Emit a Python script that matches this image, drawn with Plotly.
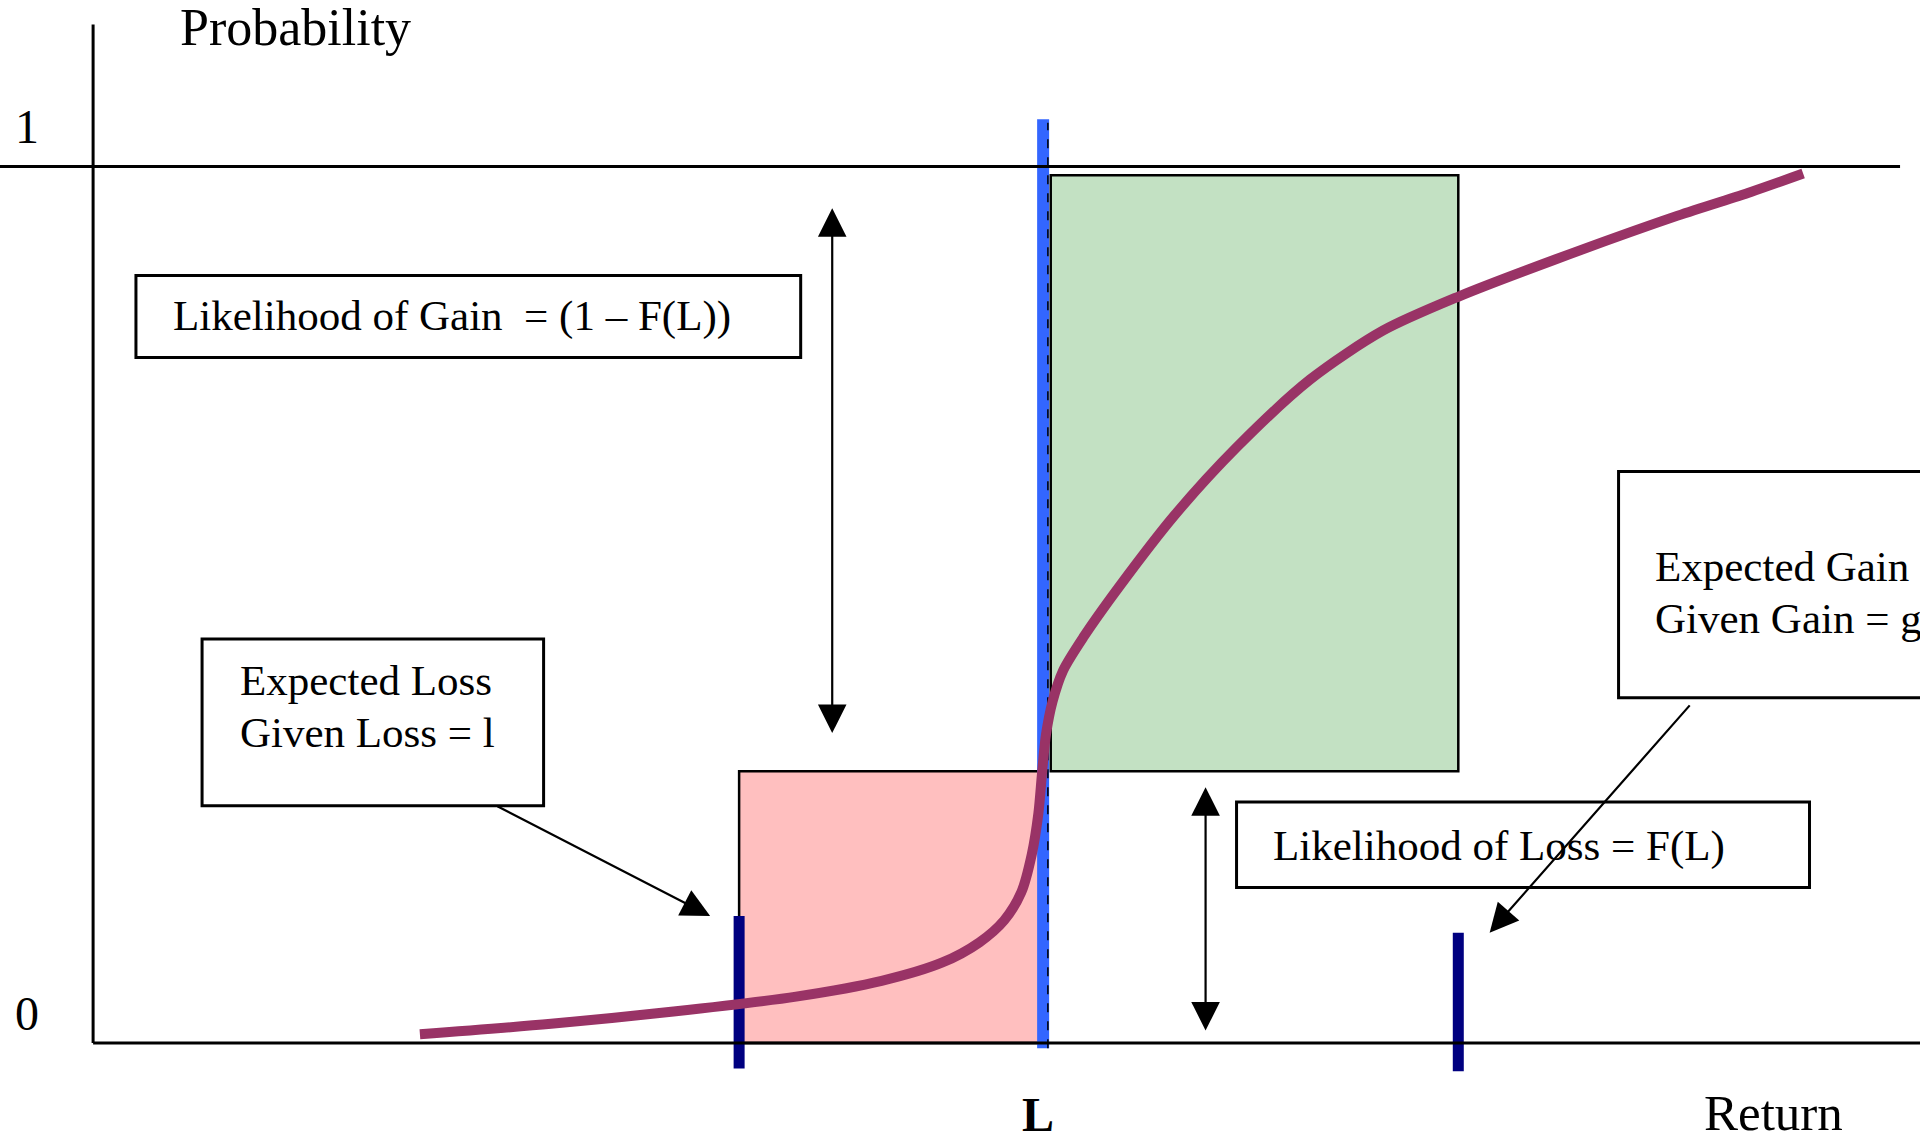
import plotly.graph_objects as go

# Return axis: the probability axis sits at 0, the threshold L at 1
L_RETURN = 1.0
F_L = 0.31            # likelihood of loss, F(L)
EXP_LOSS = 0.68       # expected loss given loss (l)
EXP_GAIN = 1.437      # expected gain given gain (g)
GAIN_TOP = 0.99

# cumulative distribution F(return)
cdf_x = [0.344, 0.482, 0.611, 0.740, 0.830, 0.894, 0.933, 0.959, 0.977, 0.988,
         0.995, 0.999, 1.003, 1.010, 1.021, 1.043, 1.081, 1.139, 1.204, 1.281,
         1.358, 1.438, 1.539, 1.668, 1.745, 1.800]
cdf_y = [0.010, 0.022, 0.036, 0.053, 0.071, 0.092, 0.115, 0.140, 0.172, 0.215,
         0.262, 0.310, 0.352, 0.390, 0.425, 0.464, 0.522, 0.603, 0.680, 0.757,
         0.813, 0.852, 0.894, 0.944, 0.971, 0.992]

INK = 'black'
FONT = 'Liberation Serif'
XR = [-0.098, 1.923]
YR = [-0.1117, 1.19]

fig = go.Figure()

# L threshold (blue dotted line)
fig.add_trace(go.Scatter(x=[L_RETURN, L_RETURN], y=[-0.006, 1.054], mode='lines',
                         line=dict(color='#3366ff', width=12), hoverinfo='skip'))
fig.add_trace(go.Scatter(x=[L_RETURN + 0.005, L_RETURN + 0.005], y=[-0.006, 1.05], mode='lines',
                         line=dict(color=INK, width=1.5, dash='dash'), hoverinfo='skip'))

# expected loss / gain markers
for xv, y0, y1 in [(EXP_LOSS, -0.029, 0.145), (EXP_GAIN, -0.032, 0.126)]:
    fig.add_trace(go.Scatter(x=[xv, xv], y=[y0, y1], mode='lines',
                             line=dict(color='#000080', width=11), hoverinfo='skip'))

fig.add_trace(go.Scatter(x=cdf_x, y=cdf_y, mode='lines',
                         line=dict(color='#993366', width=10, shape='spline', smoothing=0.8),
                         hoverinfo='skip'))

shapes = [
    # axes
    dict(type='line', x0=0, x1=0, y0=0, y1=1.162, line=dict(color=INK, width=3)),
    dict(type='line', x0=0, x1=XR[1] + 0.1, y0=0, y1=0, line=dict(color=INK, width=3)),
    dict(type='line', x0=XR[0] - 0.1, x1=1.902, y0=1, y1=1, line=dict(color=INK, width=3)),
    # loss and gain areas
    dict(type='rect', x0=EXP_LOSS, x1=L_RETURN, y0=0, y1=F_L, layer='below',
         fillcolor='#ffbfbf', line=dict(color=INK, width=2.5)),
    dict(type='rect', x0=L_RETURN + 0.008, x1=EXP_GAIN, y0=F_L, y1=GAIN_TOP, layer='below',
         fillcolor='#c3e1c3', line=dict(color=INK, width=2.5)),
    # text boxes
    dict(type='rect', x0=0.0451, x1=0.7448, y0=0.7821, y1=0.8757, line=dict(color=INK, width=3)),
    dict(type='rect', x0=0.1147, x1=0.4742, y0=0.2709, y1=0.4609, line=dict(color=INK, width=3)),
    dict(type='rect', x0=1.6057, x1=2.1, y0=0.3939, y1=0.6522, line=dict(color=INK, width=3)),
    dict(type='rect', x0=1.2036, x1=1.8067, y0=0.1774, y1=0.2751, line=dict(color=INK, width=3)),
]

def label(x, y, text, size=43, anchor='left', bold=False):
    if bold:
        text = '<b>' + text + '</b>'
    return dict(x=x, y=y, xref='x', yref='y', text=text, showarrow=False,
                xanchor=anchor, yanchor='middle',
                font=dict(family=FONT, size=size, color=INK))

def arrow(tail, head, both=False):
    return dict(x=head[0], y=head[1], ax=tail[0], ay=tail[1], xref='x', yref='y',
                axref='x', ayref='y', text='', showarrow=True, arrowhead=2,
                arrowsize=2.6, arrowwidth=2.2, arrowcolor=INK,
                startarrowhead=2, startarrowsize=2.6,
                arrowside='end+start' if both else 'end')

annotations = [
    label(0.2126, 1.159, 'Probability', size=52, anchor='center'),
    label(-0.0696, 1.046, '1', size=48, anchor='center'),
    label(-0.0696, 0.0335, '0', size=48, anchor='center'),
    label(0.9948, -0.082, 'L', size=48, anchor='center', bold=True),
    label(1.769, -0.08, 'Return', size=51, anchor='center'),
    label(0.0825, 0.8296, 'Likelihood of Gain  = (1 \u2013 F(L))'),
    label(0.152, 0.4134, 'Expected Loss'),
    label(0.152, 0.3547, 'Given Loss = l'),
    label(1.6418, 0.5433, 'Expected Gain'),
    label(1.6418, 0.4846, 'Given Gain = g'),
    label(1.2397, 0.2249, 'Likelihood of Loss = F(L)'),
    arrow((0.778, 0.352), (0.778, 0.9525), both=True),
    arrow((1.171, 0.0126), (1.171, 0.292), both=True),
    arrow((0.424, 0.271), (0.6495, 0.145)),
    arrow((1.682, 0.387), (1.470, 0.126)),
]

fig.update_layout(
    width=1920, height=1141,
    margin=dict(l=0, r=0, t=0, b=0),
    paper_bgcolor='white', plot_bgcolor='white',
    showlegend=False,
    xaxis=dict(range=XR, visible=False, fixedrange=True),
    yaxis=dict(range=YR, visible=False, fixedrange=True),
    shapes=shapes, annotations=annotations,
)

fig.write_html("out.html", config={'displayModeBar': False},
               post_script="document.body.style.margin='0';document.body.style.overflow='hidden';")
